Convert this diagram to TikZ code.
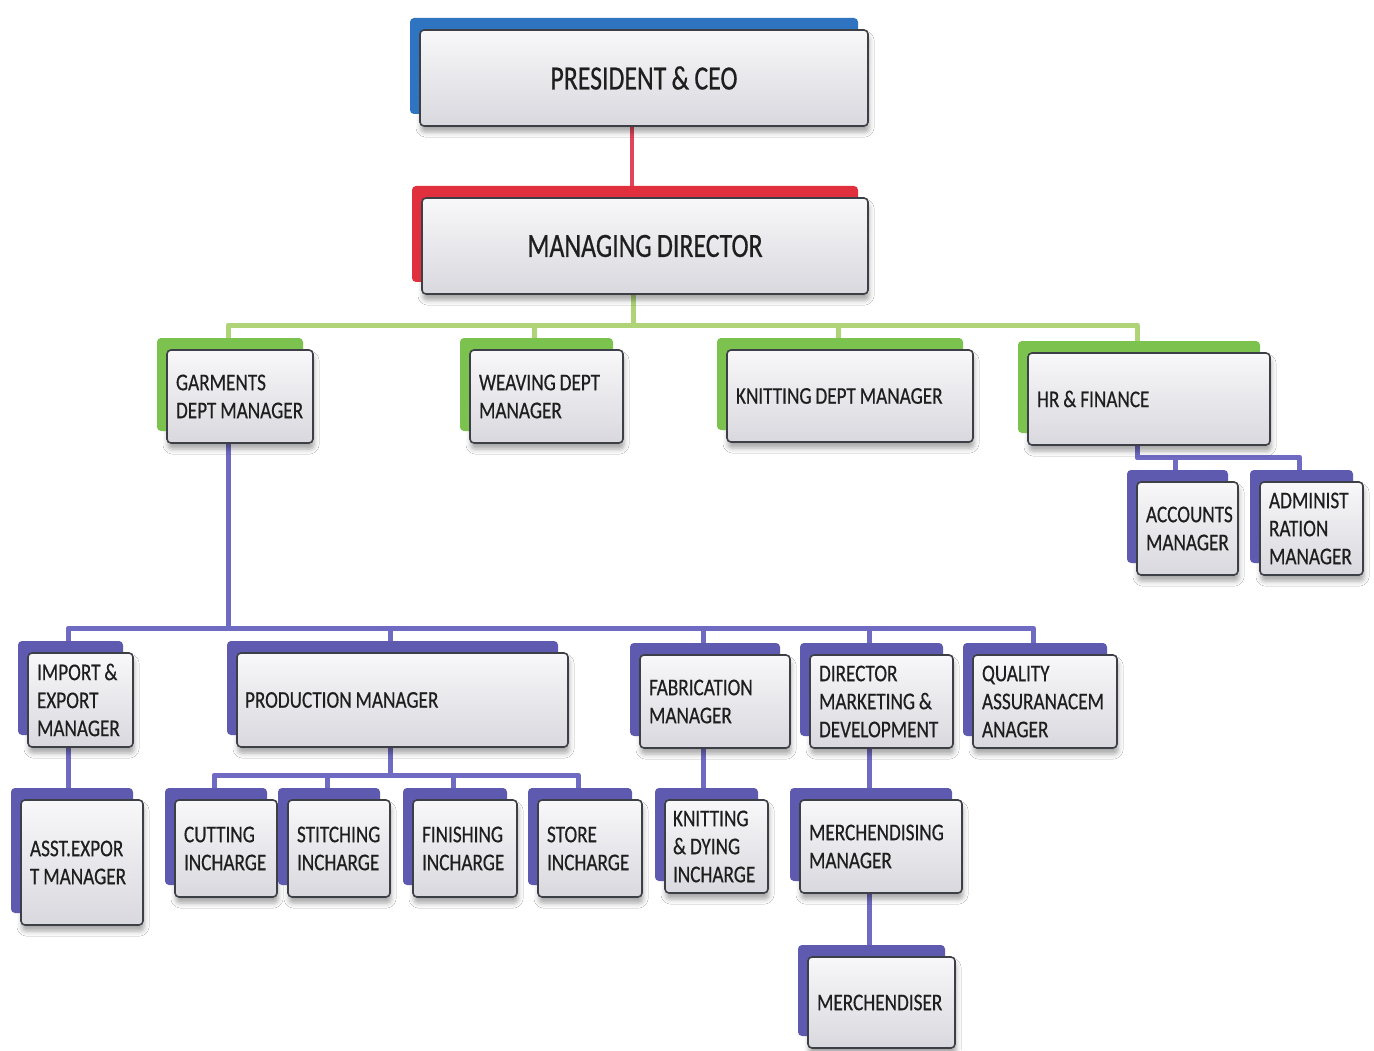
\documentclass[tikz,border=0pt]{standalone}
\usepackage{fontspec}
\setmainfont[FakeStretch=0.8, WordSpace=0.9, FakeBold=0.4]{Carlito}
\newfontfamily\bigfont[FakeStretch=0.76, WordSpace=0.9, FakeBold=0.5]{Carlito}
\hyphenpenalty=10000
\exhyphenpenalty=10000
\usetikzlibrary{backgrounds,shadows.blur}
\definecolor{cblue}{HTML}{2F74C0}
\definecolor{cred}{HTML}{E0303E}
\definecolor{cgreen}{HTML}{7CC24F}
\definecolor{cpurp}{HTML}{5E5AB0}
\definecolor{lred}{HTML}{E0455A}
\definecolor{lgreen}{HTML}{AED477}
\definecolor{lpurp}{HTML}{6F6BC2}
\definecolor{cardedge}{HTML}{3C3F45}
\definecolor{cardtop}{HTML}{F8F8FA}
\definecolor{cardbot}{HTML}{D8D8DE}
\definecolor{ink}{HTML}{1E1E1E}
\tikzset{
  card/.style={rounded corners=4pt, draw=cardedge, line width=1.6pt,
    top color=cardtop, bottom color=cardbot, outer sep=0pt,
    blur shadow={shadow xshift=1pt, shadow yshift=-6pt, shadow blur radius=5pt, shadow opacity=35},
    preaction={fill=#1, rounded corners=4pt, transform canvas={shift={(-10pt,12pt)}}},
    text=ink},
  bigtext/.style={font=\bigfont\fontsize{34}{40}\selectfont, align=center, inner sep=0pt},
  smalltext/.style={font=\fontsize{24}{28}\selectfont, align=flush left, inner xsep=9pt, inner ysep=0pt},
  lbox/.style 2 args={smalltext, text width=#1, minimum height=#2},
  rline/.style={draw=lred, line width=3.5pt},
  gline/.style={draw=lgreen, line width=5pt, line join=round},
  pline/.style={draw=lpurp, line width=5pt, line join=round},
}
\begin{document}
\begin{tikzpicture}[x=1pt,y=-1pt]
\useasboundingbox (0,0) rectangle (1374,1051);
% top levels
\node[card=cblue, bigtext, minimum width=448pt, minimum height=96pt] (pres) at (644,78) {PRESIDENT \& CEO};
\node[card=cred, bigtext, minimum width=446pt, minimum height=96pt] (md) at (645,246) {MANAGING DIRECTOR};
% departments
\node[card=cgreen, lbox={128pt}{93pt}] (garm) at (240,396.5) {GARMENTS\\DEPT~MANAGER};
\node[card=cgreen, lbox={135pt}{93pt}] (weav) at (546.5,396.5) {WEAVING~DEPT\\MANAGER};
\node[card=cgreen, lbox={228pt}{92pt}] (knit) at (850,396) {KNITTING~DEPT~MANAGER};
\node[card=cgreen, lbox={224pt}{92pt}] (hr) at (1149,399) {HR~\&~FINANCE};
% HR children
\node[card=cpurp, lbox={83pt}{93pt}] (acc) at (1187.5,528.5) {ACCOUNTS\\MANAGER};
\node[card=cpurp, lbox={85pt}{93pt}] (adm) at (1311.5,528.5) {ADMINIST\\RATION\\MANAGER};
% garments children
\node[card=cpurp, lbox={87pt}{94pt}] (imp) at (80.5,700) {IMPORT~\&\\EXPORT\\MANAGER};
\node[card=cpurp, lbox={315pt}{94pt}, inner xsep=8pt] (prod) at (402.5,700) {PRODUCTION~MANAGER};
\node[card=cpurp, lbox={132pt}{93pt}] (fab) at (715,701.5) {FABRICATION\\MANAGER};
\node[card=cpurp, lbox={125pt}{93pt}] (dir) at (881.5,701.5) {DIRECTOR\\MARKETING~\&\\DEVELOPMENT};
\node[card=cpurp, lbox={126pt}{93pt}] (qual) at (1045,701.5) {QUALITY\\ASSURANACEM\\ANAGER};
% lower level
\node[card=cpurp, lbox={104pt}{125pt}] (asst) at (82,862.5) {ASST.EXPOR\\T~MANAGER};
\node[card=cpurp, lbox={84pt}{97pt}] (cut) at (226,848.5) {CUTTING\\INCHARGE};
\node[card=cpurp, lbox={84pt}{97pt}] (stit) at (339,848.5) {STITCHING\\INCHARGE};
\node[card=cpurp, lbox={86pt}{97pt}] (fin) at (465,848.5) {FINISHING\\INCHARGE};
\node[card=cpurp, lbox={86pt}{97pt}] (store) at (590,848.5) {STORE\\INCHARGE};
\node[card=cpurp, lbox={87pt}{93pt}, inner xsep=8pt] (kd) at (716.5,846.5) {KNITTING\\\&~DYING\\INCHARGE};
\node[card=cpurp, lbox={144pt}{93pt}] (mm) at (881,846.5) {MERCHENDISING\\MANAGER};
\node[card=cpurp, lbox={129pt}{91pt}] (merch) at (881.5,1002.5) {MERCHENDISER};
% connector ports
\foreach \n in {pres,md,garm,weav,knit,hr,acc,adm,imp,prod,fab,dir,qual,asst,cut,stit,fin,store,kd,mm,merch}
  \path ([xshift=-12pt]\n.north) coordinate (\n-t) ([xshift=-12pt]\n.south) coordinate (\n-b);
\begin{scope}[on background layer]
\fill[white] (0,0) rectangle (1374,1051);
\draw[rline] (pres-b) -- (pres-b |- md-t);
\foreach \c in {garm,weav,knit,hr}
  \draw[gline] (md-b) |- (\c-t |- 0,325) -- (\c-t);
\foreach \c in {acc,adm}
  \draw[pline] (hr-b) |- (\c-t |- 0,457) -- (\c-t);
\foreach \c in {imp,prod,fab,dir,qual}
  \draw[pline] (garm-b) |- (\c-t |- 0,628) -- (\c-t);
\foreach \c in {cut,stit,fin,store}
  \draw[pline] (prod-b) |- (\c-t |- 0,775) -- (\c-t);
\draw[pline] (imp-b) -- (imp-b |- asst-t);
\draw[pline] (fab-b) -- (fab-b |- kd-t);
\draw[pline] (dir-b) -- (dir-b |- mm-t);
\draw[pline] (mm-b) -- (mm-b |- merch-t);
\end{scope}
\end{tikzpicture}
\end{document}
